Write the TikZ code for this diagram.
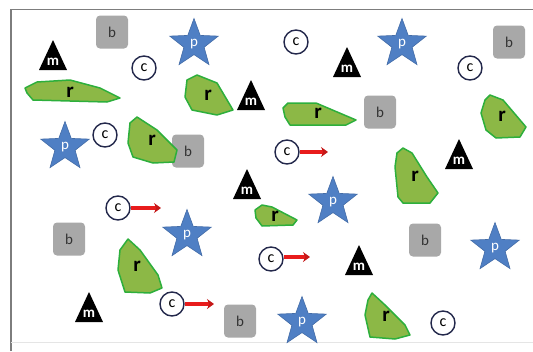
\documentclass[tikz,border=0pt]{standalone}
\usepackage{fontspec}
\setmainfont{Carlito}
\usetikzlibrary{shapes.geometric,arrows.meta}
\definecolor{boxgray}{RGB}{168,168,168}
\definecolor{starblue}{RGB}{79,127,196}
\definecolor{rfill}{RGB}{140,184,70}
\definecolor{redge}{RGB}{45,175,60}
\definecolor{cedge}{RGB}{35,40,75}
\definecolor{arrred}{RGB}{232,28,28}
\definecolor{framegray}{RGB}{125,125,125}
\tikzset{
  bbox/.style={rectangle, rounded corners=4pt, fill=boxgray, minimum width=32pt, minimum height=33pt, inner sep=0pt, font=\fontsize{15}{15}\selectfont, text=black!80},
  cnode/.style={circle, draw=cedge, line width=1.4pt, fill=white, minimum size=24pt, inner sep=0pt, font=\fontsize{16}{16}\selectfont},
  pstar/.style={star, star points=5, star point ratio=2.4, minimum size=51pt, inner sep=0pt, fill=starblue, draw=starblue!85!black, line width=0.6pt, text=white, font=\fontsize{15}{15}\selectfont},
  mtext/.style={inner sep=0pt, text=white, font=\bfseries\fontsize{15}{15}\selectfont},
  rpoly/.style={fill=rfill, draw=redge, line width=1.5pt, line join=round},
  rtext/.style={inner sep=0pt, font=\bfseries\fontsize{21}{21}\selectfont},
  redarrow/.style={arrred, line width=3.6pt, -{Stealth[length=7pt,width=10pt,color=arrred!85!black]}},
}
\newcommand{\mtri}[3]{%
  \fill[black] (#2-14,#3+15) -- (#2+14,#3+15) -- (#2,#3-15) -- cycle;
  \node[mtext] (#1) at (#2,#3+7) {m};}
\begin{document}
\begin{tikzpicture}[x=1pt,y=-1pt]
\useasboundingbox (0,0) rectangle (533,351);
% frame
\draw[framegray, line width=1.6pt] (11,351) -- (11,9.5) -- (533,9.5);
\draw[black!10, line width=0.8pt] (11,342) -- (533,342);

% b boxes
\node[bbox] (b1) at (112,32) {b};
\node[bbox] (b2) at (509,42) {b};
\node[bbox] (b3) at (380,112) {b};
\node[bbox] (b4) at (188,151) {b};
\node[bbox] (b5) at (69,239) {b};
\node[bbox] (b6) at (425,240) {b};
\node[bbox] (b7) at (240,321) {b};

% r polygons
\draw[rpoly] (25,88) -- (37,82) -- (70,80) -- (100,88) -- (120,98) -- (107,102) -- (33,100) -- (27,93) -- cycle;
\node[rtext] (r1) at (70,92) {r};
\draw[rpoly] (187,80) -- (197,75) -- (217,83) -- (233,110) -- (217,115) -- (192,110) -- (185,97) -- cycle;
\node[rtext] (r2) at (208,95) {r};
\draw[rpoly] (130,123) -- (137,117) -- (157,130) -- (177,150) -- (174,162) -- (153,163) -- (133,157) -- (128,143) -- cycle;
\node[rtext] (r3) at (152,140) {r};
\draw[rpoly] (283,108) -- (288,103) -- (316,103) -- (356,120) -- (346,125) -- (290,125) -- (285,117) -- cycle;
\node[rtext] (r4) at (318,113) {r};
\draw[rpoly] (485,100) -- (490,95) -- (503,100) -- (526,127) -- (520,137) -- (496,138) -- (486,130) -- (481,113) -- cycle;
\node[rtext] (r5) at (502,116) {r};
\draw[rpoly] (397,153) -- (403,148) -- (412,153) -- (427,177) -- (438,193) -- (430,203) -- (403,203) -- (398,197) -- (395,167) -- cycle;
\node[rtext] (r6) at (415,176) {r};
\draw[rpoly] (255,210) -- (262,205) -- (272,207) -- (297,220) -- (293,225) -- (262,226) -- (256,218) -- cycle;
\node[rtext] (r7) at (275,216) {r};
\draw[rpoly] (120,250) -- (128,239) -- (140,250) -- (158,275) -- (162,288) -- (150,293) -- (125,292) -- (118,270) -- cycle;
\node[rtext] (r8) at (137,266) {r};
\draw[rpoly] (368,300) -- (372,293) -- (385,305) -- (405,325) -- (410,335) -- (395,339) -- (370,337) -- (365,315) -- cycle;
\node[rtext] (r9) at (386,316) {r};

% m triangles
\mtri{m1}{53}{55}
\mtri{m2}{251}{95}
\mtri{m3}{347}{62}
\mtri{m4}{459}{154}
\mtri{m5}{247}{184}
\mtri{m6}{359}{260}
\mtri{m7}{89}{307}

% stars
\node[pstar] (p1) at (194,44) {p};
\node[pstar] (p2) at (402,44) {p};
\node[pstar] (p3) at (65,147) {p};
\node[pstar] (p4) at (333,202) {p};
\node[pstar] (p5) at (187,235) {p};
\node[pstar] (p6) at (495,248) {p};
\node[pstar] (p7) at (302,322) {p};

% c circles
\node[cnode] (c1) at (144,68) {c};
\node[cnode] (c2) at (105,135) {c};
\node[cnode] (c3) at (296,42) {c};
\node[cnode] (c4) at (470,68) {c};
\node[cnode] (c5) at (287,152) {c};
\node[cnode] (c6) at (118,208) {c};
\node[cnode] (c7) at (271,259) {c};
\node[cnode] (c8) at (172,304) {c};
\node[cnode] (c9) at (443,323) {c};

% arrows
\coordinate (a5) at (328,152);
\coordinate (a6) at (161,208);
\coordinate (a7) at (310,257);
\coordinate (a8) at (214,304);
\draw[redarrow] (c5.east) -- (a5);
\draw[redarrow] (c6.east) -- (a6);
\draw[redarrow] (c7.east |- a7) -- (a7);
\draw[redarrow] (c8.east) -- (a8);
\end{tikzpicture}
\end{document}
